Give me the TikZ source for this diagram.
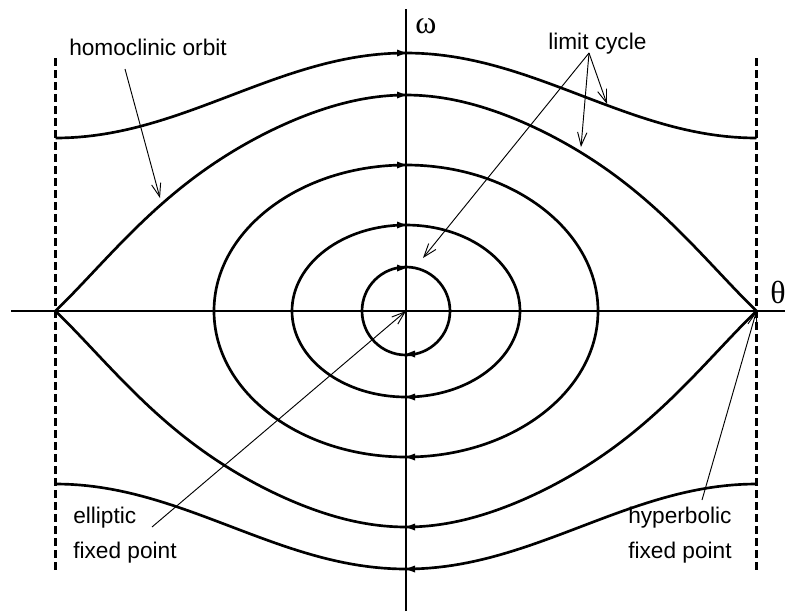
\documentclass[tikz,border=0pt]{standalone}
\usepackage{fontspec}
\setmainfont{Liberation Sans}
\newfontfamily\greekfont{Liberation Serif}
\usetikzlibrary{arrows.meta}
\tikzstyle{orbit} = [line width=2pt, line join=round]
\tikzstyle{axis} = [line width=2pt]
\tikzstyle{wall} = [line width=2pt, dash pattern=on 6pt off 3pt]
\tikzstyle{pointer} = [line width=0.7pt, -{Straight Barb[length=10pt,width=7pt]}]
\tikzstyle{lbl} = [inner sep=0pt, anchor=base west, align=left, font=\fontsize{17}{26}\selectfont]
\tikzstyle{greek} = [inner sep=0pt, anchor=base west, font=\greekfont\fontsize{24}{24}\selectfont]

\begin{document}
\begin{tikzpicture}[x=0.75pt, y=-0.75pt,
  declare function={thx(\t)=406+1.947222*\t;
    sepw(\t)=216*cos(\t/2)+130*cos(\t/2)^2*(1-cos(\t/2))^2;}]
\useasboundingbox (0,0) rectangle (789,611);

% Fixed points and axis ends
\coordinate (ell) at (406,311);
\coordinate (hypL) at (55.5,311);
\coordinate (hypR) at (756.5,311);
\coordinate (thetaStart) at (11,311);
\coordinate (thetaEnd) at (785,311);
\coordinate (omegaTop) at (406,9);
\coordinate (omegaBot) at (406,611);
\coordinate (wallL) at (55.5,58);
\coordinate (wallR) at (756.5,58);
\coordinate (wallEnd) at (406,570);

% Axes and boundaries
\draw [axis] (thetaStart) -- (thetaEnd);
\draw [axis] (omegaBot) -- (omegaTop);
\draw [wall] (wallL) -- (wallL |- wallEnd);
\draw [wall] (wallR) -- (wallR |- wallEnd);

% Rotations
\draw [orbit] plot[domain=-180:180, samples=91] ({thx(\x)}, {311-215.5-42.5*cos(\x)});
\draw [orbit] plot[domain=-180:180, samples=91] ({thx(\x)}, {311+215.5+42.5*cos(\x)});

% Separatrix
\draw [orbit] (hypL) -- plot[domain=-179:179, samples=121] ({thx(\x)}, {311-sepw(\x)}) -- (hypR);
\draw [orbit] (hypL) -- plot[domain=-179:179, samples=121] ({thx(\x)}, {311+sepw(\x)}) -- (hypR);

% Librations
\draw [orbit] (ell) circle[radius=44];
\draw [orbit] (ell) ellipse[x radius=114, y radius=86];
\draw [orbit] (ell) ellipse[x radius=192, y radius=146];

% Flow direction
\foreach \h in {258,216,146,86,43} {
  \fill (406,311-\h) -- ++(-9,-3.5) -- ++(0,7) -- cycle;
  \fill (406,311+\h) -- ++(9,-3.5) -- ++(0,7) -- cycle;
}

% Labels
\node [greek] (omegaLabel) at (415,33) {ω};
\node [greek] (thetaLabel) at (770,303) {θ};
\node [lbl] (homLabel) at (69,55) {homoclinic orbit};
\node [lbl] (limLabel) at (548,49) {limit cycle};
\node [lbl] (ellLabel) at (73,558) {elliptic\\fixed point};
\node [lbl] (hypLabel) at (628,558) {hyperbolic\\fixed point};

% Pointers
\coordinate (homTail) at (125,69);
\coordinate (homTip) at (160,198);
\coordinate (limTail) at (589,53);
\coordinate (limTipA) at (607,104);
\coordinate (limTipB) at (581,147);
\coordinate (limTipC) at (423,258);
\coordinate (ellTail) at (152,527);
\coordinate (hypTail) at (702,500);

\draw [pointer] (homTail) -- (homTip);
\draw [pointer] (limTail) -- (limTipA);
\draw [pointer] (limTail) -- (limTipB);
\draw [pointer] (limTail) -- (limTipC);
\draw [pointer] (ellTail) -- (ell);
\draw [pointer] (hypTail) -- (hypR);

\end{tikzpicture}
\end{document}
